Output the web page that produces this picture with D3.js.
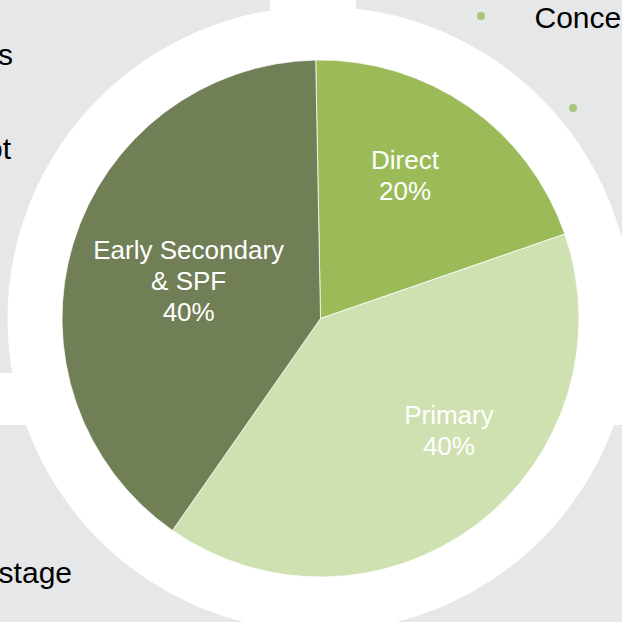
<!DOCTYPE html>
<html>
<head>
<meta charset="utf-8">
<script src="https://cdn.jsdelivr.net/npm/d3@7"></script>
<style>
  html, body { margin: 0; padding: 0; background: #e6e7e9; }
  svg { display: block; }
</style>
</head>
<body>
<script>
// pie data
const categories = ["Direct", "Primary", "Early Secondary & SPF"];
const shares = [20, 40, 40];
const labelLines = [["Direct", "20%"], ["Primary", "40%"], ["Early Secondary", "& SPF", "40%"]];
const sliceColors = ["#9bbb59", "#d0e1b1", "#717f56"];

const width = 622, height = 622;
const cx = 320.5, cy = 318.5, radius = 258.5;

const svg = d3.select("body").append("svg")
    .attr("width", width)
    .attr("height", height);

// slide background bits around the chart
svg.append("rect").attr("width", width).attr("height", height).attr("fill", "#e6e7e9");
svg.append("rect").attr("x", 270).attr("y", 0).attr("width", 86).attr("height", 320).attr("fill", "#fff");
svg.append("rect").attr("x", 0).attr("y", 373).attr("width", width).attr("height", 52).attr("fill", "#fff");
svg.append("circle").attr("cx", 320).attr("cy", 319).attr("r", 312.5).attr("fill", "#fff");

// cut-off slide text
const side = svg.append("g")
    .attr("font-family", "'Liberation Sans', Arial, sans-serif")
    .attr("font-size", 30)
    .attr("fill", "#000");
side.append("text").attr("x", 13).attr("y", 65).attr("text-anchor", "end").text("s");
side.append("text").attr("x", 11).attr("y", 159).attr("text-anchor", "end").text("ot");
side.append("text").attr("x", 72).attr("y", 583).attr("text-anchor", "end").text("stage");
side.append("text").attr("x", 534.5).attr("y", 28).text("Conce");
svg.append("circle").attr("cx", 481).attr("cy", 16).attr("r", 4).attr("fill", "#a6c678");
svg.append("circle").attr("cx", 573).attr("cy", 108).attr("r", 4).attr("fill", "#a6c678");

// pie
const start = -1.06 * Math.PI / 180;
const pie = d3.pie().sort(null).startAngle(start).endAngle(start + 2 * Math.PI);
const arcs = pie(shares);

const arc = d3.arc().innerRadius(0).outerRadius(radius);
const labelArc = d3.arc().innerRadius(165).outerRadius(165);
const color = d3.scaleOrdinal().domain(categories).range(sliceColors);

const g = svg.append("g").attr("transform", `translate(${cx},${cy})`);

g.selectAll("path")
    .data(arcs)
    .join("path")
    .attr("d", arc)
    .attr("fill", (d, i) => color(categories[i]))
    .attr("stroke", "#fff")
    .attr("stroke-width", 0.75);

// excel placed the labels a bit off the centroid
const labelNudge = [[-10, -8], [29, -20], [26, 10]];
const lineH = 31, capH = 18.6;

g.selectAll("text.lbl")
    .data(arcs)
    .join("text")
    .attr("class", "lbl")
    .attr("font-family", "'Liberation Sans', Arial, sans-serif")
    .attr("font-size", 26)
    .attr("fill", "#fff")
    .attr("text-anchor", "middle")
    .each(function (d, i) {
        const c = labelArc.centroid(d);
        const x = c[0] + labelNudge[i][0];
        const midY = c[1] + labelNudge[i][1];
        const lines = labelLines[i];
        const y0 = midY - (lineH * (lines.length - 1) - capH) / 2;
        d3.select(this).selectAll("tspan")
            .data(lines)
            .join("tspan")
            .attr("x", x)
            .attr("y", (t, k) => y0 + k * lineH)
            .text(t => t);
    });
</script>
</body>
</html>
